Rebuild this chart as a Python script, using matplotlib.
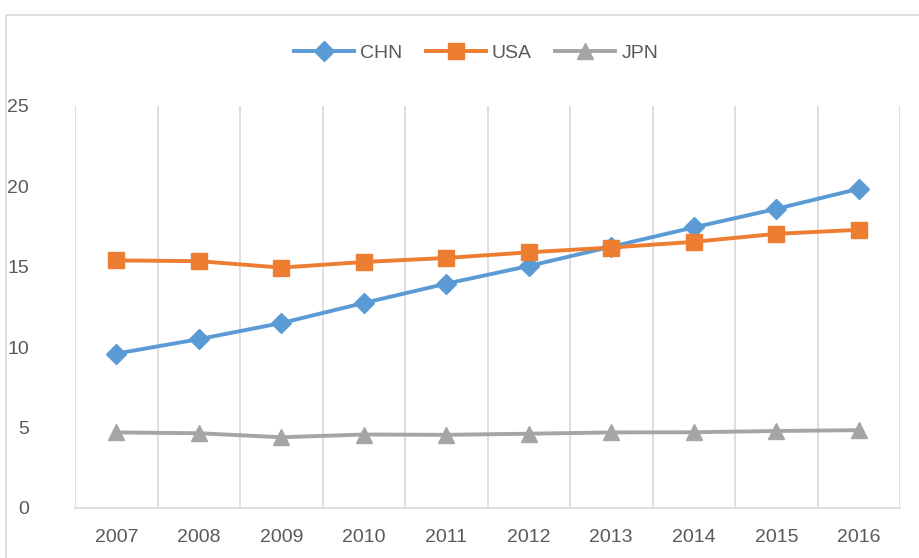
import matplotlib.pyplot as plt
from matplotlib.patches import Rectangle

years = ['2007', '2008', '2009', '2010', '2011', '2012', '2013', '2014', '2015', '2016']
chn = [9.6, 10.5, 11.5, 12.75, 13.95, 15.05, 16.25, 17.45, 18.6, 19.85]
usa = [15.4, 15.35, 14.95, 15.3, 15.55, 15.9, 16.2, 16.55, 17.05, 17.3]
jpn = [4.7, 4.65, 4.4, 4.57, 4.55, 4.62, 4.7, 4.71, 4.79, 4.84]

plt.rcParams['font.family'] = ['Liberation Sans', 'DejaVu Sans']

fig = plt.figure(figsize=(9.19, 5.58), dpi=100)
ax = fig.add_axes([75/919, 50/558, 825/919, 402/558])

x = list(range(len(years)))
ax.plot(x, chn, color='#5b9bd5', lw=2.8, marker='D', ms=10, label='CHN')
ax.plot(x, usa, color='#ed7d31', lw=2.8, marker='s', ms=12, label='USA')
ax.plot(x, jpn, color='#a5a5a5', lw=2.8, marker='^', ms=12, label='JPN')

# vertical gridlines between categories
for g in range(len(years) + 1):
    ax.axvline(g - 0.5, color='#d9d9d9', lw=1.2, zorder=0)

ax.set_xlim(-0.5, len(years) - 0.5)
ax.set_ylim(0, 25)
ax.set_yticks([0, 5, 10, 15, 20, 25])
ax.set_xticks(x)
ax.set_xticklabels(years)
ax.tick_params(axis='both', length=0, labelsize=14, labelcolor='#595959')
ax.tick_params(axis='y', pad=33)
ax.tick_params(axis='x', pad=15)
for s in ['top', 'right', 'left']:
    ax.spines[s].set_visible(False)
ax.spines['bottom'].set_color('#d9d9d9')
ax.spines['bottom'].set_linewidth(1.2)

leg = fig.legend(loc='center', bbox_to_anchor=(476/919, 1 - 53/558), ncol=3,
                 frameon=False, fontsize=14, handlelength=3.1, columnspacing=1.2,
                 handletextpad=0.3)
for t in leg.get_texts():
    t.set_color('#595959')

# chart border
fig.patches.append(Rectangle((6/919, -0.1), 1.2, 1 - 15/558 + 0.1,
                             transform=fig.transFigure, fill=False,
                             edgecolor='#d9d9d9', lw=1.2))

fig.savefig('out.png', dpi=100)
